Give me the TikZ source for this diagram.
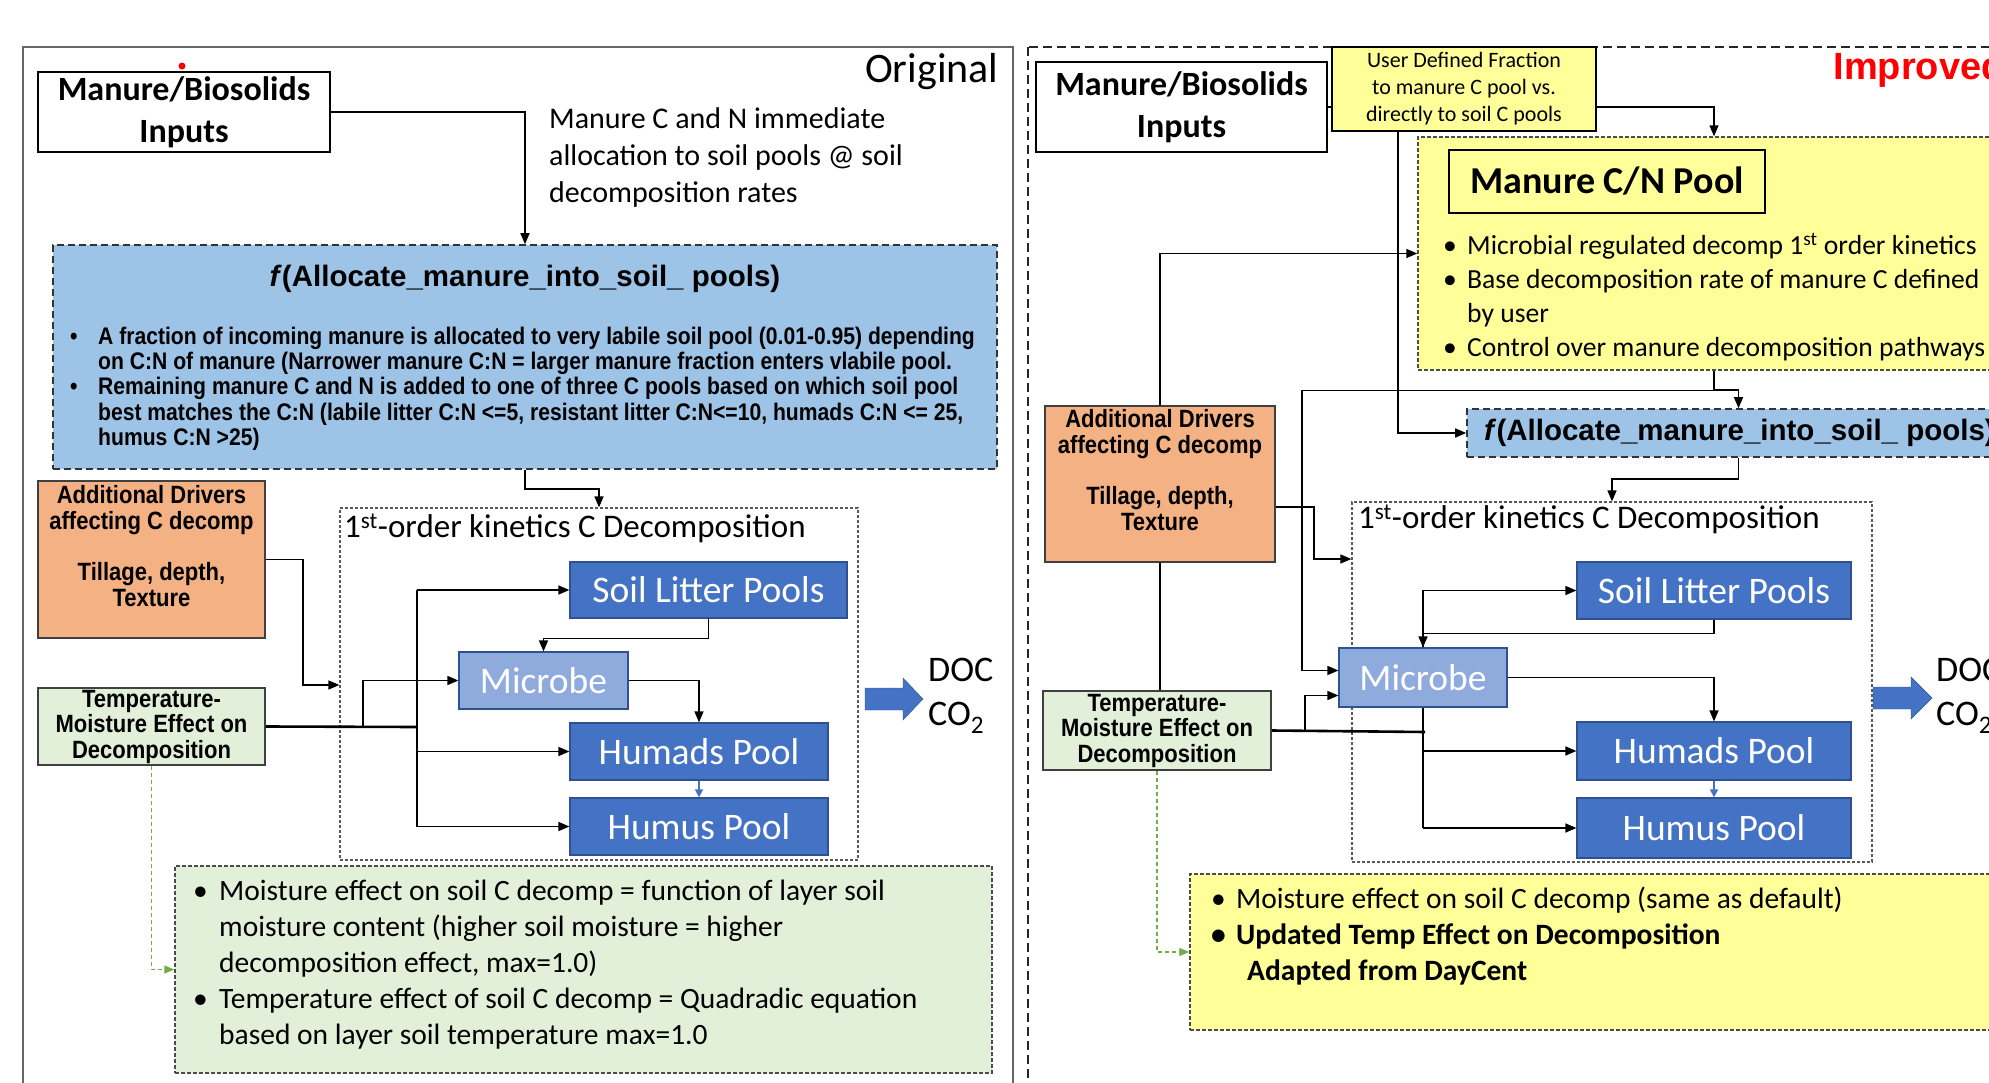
\documentclass[tikz,border=0pt]{standalone}
\usepackage{fontspec}
\setmainfont{Carlito}
\newfontfamily\arialsf{Liberation Sans}
\newfontfamily\narrowsf[FakeStretch=0.88]{Liberation Sans}
\usepackage{xcolor}
\usetikzlibrary{arrows.meta,calc}
\definecolor{bluebox}{HTML}{9DC3E6}
\definecolor{pooldark}{HTML}{4472C4}
\definecolor{poolline}{HTML}{2F528F}
\definecolor{microbe}{HTML}{8FAADC}
\definecolor{orangebox}{HTML}{F4B183}
\definecolor{greenbox}{HTML}{E2F0D9}
\definecolor{yellowbox}{HTML}{FFFF99}
\definecolor{gline}{HTML}{70AD47}
\newcommand\bl[1]{\makebox[#1][l]{\textbullet}}
\newcommand\fs[2]{\fontsize{#1}{#2}\selectfont}

\begin{document}
\begin{tikzpicture}[x=1pt,y=-1pt,
  conn/.style={line width=1.5},
  arr/.style={conn,-{Triangle[length=11pt,width=9pt]}},
  thk/.style={line width=2.6},
  box/.style={draw,line width=1.5,inner sep=0,align=center},
  pool/.style={fill=pooldark,draw=poolline,line width=1.2,text=white,inner sep=0,font=\fs{37.5}{45}},
  micro/.style={pool,fill=microbe},
  decframe/.style={draw=black!65,dash pattern=on 3pt off 2pt,line width=1.2,inner sep=0},
  bluedash/.style={fill=bluebox,draw=black!80,dash pattern=on 7pt off 4pt,line width=1.6,inner sep=0},
  notedash/.style={draw=black!70,dash pattern=on 4pt off 2pt,line width=1.4,inner sep=0},
  drivers/.style={box,font=\narrowsf\bfseries\fs{25}{25.5}},
  gdash/.style={draw=gline,dash pattern=on 4pt off 3pt,line width=1.2,-{Triangle[length=10pt,width=8pt]}},
  barr/.style={draw=pooldark,line width=1.5,-{Triangle[length=8pt,width=8pt]}}]
\useasboundingbox (0,0) rectangle (1989,1083);

% ---------------- Original ----------------
\draw[black!60,line width=1.5] (23,47) rectangle (1013,1100);
\node[anchor=east,font=\fs{42}{48}] (orig) at (1002,72) {Original};
\fill[red] (182,66) circle (3.5);
\node[box,minimum width=292,minimum height=80,font=\bfseries\fs{34}{42}] (manL) at (184,112) {Manure/Biosolids\\Inputs};
\node[anchor=north west,inner sep=0,align=left,font=\fs{30}{37}] (txtL) at (549,107) {Manure C and N immediate\\allocation to soil pools @ soil\\decomposition rates};
\node[bluedash,minimum width=944,minimum height=224] (blueL) at (525,357) {};
\node[font=\arialsf\bfseries\fs{29.5}{35}] (fttlL) at (525,279) {\textit{f}(Allocate\_manure\_into\_soil\_ pools)};
\node[anchor=north west,inner sep=0,align=left,font=\narrowsf\bfseries\fs{24}{25.2}] (fbulL) at (70,327) {\bl{28pt}A fraction of incoming manure is allocated to very labile soil pool (0.01-0.95) depending\\
\hspace*{28pt}on C:N of manure (Narrower manure C:N = larger manure fraction enters vlabile pool.\\
\bl{28pt}Remaining manure C and N is added to one of three C pools based on which soil pool\\
\hspace*{28pt}best matches the C:N (labile litter C:N <=5, resistant litter C:N<=10, humads C:N <= 25,\\
\hspace*{28pt}humus C:N >25)};

\node[box,fill=orangebox,draw=black!75,minimum width=227,minimum height=157] (orgL) at (151.5,559.5) {};
\node[font=\narrowsf\bfseries\fs{25}{25.5},align=center] (orgtL) at (151.5,546) {Additional Drivers\\affecting C decomp\\[26pt]Tillage, depth,\\Texture};
\node[drivers,fill=greenbox,draw=black!75,minimum width=227,minimum height=77] (grnL) at (151.5,726.5) {Temperature-\\Moisture Effect on\\Decomposition};

\node[decframe,minimum width=518,minimum height=352] (frameL) at (599,684) {};
\node[anchor=west,inner sep=0,font=\fs{33}{40}] (ttlL) at (344,528) {1\textsuperscript{st}-order kinetics C Decomposition};
\node[pool,minimum width=277,minimum height=56] (litL) at (708.5,590) {Soil Litter Pools};
\node[micro,minimum width=169,minimum height=57] (micL) at (543.5,680.5) {Microbe};
\node[pool,minimum width=258,minimum height=57] (hadL) at (699,751.5) {Humads Pool};
\node[pool,minimum width=258,minimum height=57] (husL) at (699,826.5) {Humus Pool};
\fill[pooldark,draw=poolline] (865,688) -- (903,688) -- (903,678) -- (923,699) -- (903,720) -- (903,710) -- (865,710) -- cycle;
\node[anchor=west,inner sep=0,font=\fs{36}{40}] (docL) at (928,670) {DOC};
\node[anchor=west,inner sep=0,font=\fs{36}{40}] (co2L) at (928,718) {CO\textsubscript{2}};

\node[notedash,fill=greenbox,minimum width=817,minimum height=207] (notesL) at (583.5,969.5) {};
\node[anchor=north west,inner sep=0,align=left,font=\fs{29.5}{36}] (nbulL) at (193,880) {\bl{26pt}Moisture effect on soil C decomp = function of layer soil\\
\hspace*{26pt}moisture content (higher soil moisture = higher\\
\hspace*{26pt}decomposition effect, max=1.0)\\
\bl{26pt}Temperature effect of soil C decomp = Quadradic equation\\
\hspace*{26pt}based on layer soil temperature max=1.0};

\coordinate (oL) at (303,685);
\coordinate (busL) at (417,727);
\coordinate (brL) at (363,727);
\draw[arr] (manL.east) -| (blueL.north);
\draw[arr] (blueL.south) -- ++(0,19) -| (frameL.north);
\draw[arr] (orgL.east) -| (oL) -- (oL -| frameL.west);
\draw[thk] (grnL.east) -- (busL);
\draw[arr] (brL) |- (micL.west);
\draw[conn] (busL |- litL) -- (busL |- husL);
\foreach \p in {litL,hadL,husL} \draw[arr] (busL |- \p) -- (\p.west);
\draw[arr] (litL.south) -- ++(0,20) -| (micL.north);
\draw[arr] (micL.east) -| (hadL.north);
\draw[barr] (hadL.south) -- (husL.north);
\draw[gdash] (grnL.south) |- (notesL.west);

% ---------------- Improved ----------------
\draw[black!85,dash pattern=on 9pt off 5pt,line width=2.2] (1028,47) rectangle (2010,1100);
\node[anchor=west,text=red,font=\arialsf\bfseries\fs{38}{42}] (impR) at (1830,70) {Improved};
\node[box,minimum width=291,minimum height=90,font=\bfseries\fs{34}{42}] (manR) at (1181.5,107) {Manure/Biosolids\\Inputs};
\node[box,fill=yellowbox,minimum width=264,minimum height=84,font=\fs{22}{27}] (usrR) at (1464,89) {User Defined Fraction\\to manure C pool vs.\\directly to soil C pools};
\node[notedash,fill=yellowbox,minimum width=592,minimum height=233] (yelR) at (1714,253.5) {};
\node[box,fill=yellowbox,line width=1.3,minimum width=316,minimum height=63,font=\bfseries\fs{38}{44}] (cnR) at (1607,181.5) {Manure C/N Pool};
\node[anchor=north west,inner sep=0,align=left,font=\fs{27.6}{34}] (ybulR) at (1443,233) {\bl{24pt}Microbial regulated decomp 1\textsuperscript{st} order kinetics\\
\bl{24pt}Base decomposition rate of manure C defined\\
\hspace*{24pt}by user\\
\bl{24pt}Control over manure decomposition pathways};
\node[bluedash,minimum width=543,minimum height=48] (fR) at (1738.5,433) {};
\node[anchor=west,inner sep=0,font=\arialsf\bfseries\fs{29.5}{35}] (fttlR) at (1484,433) {\textit{f}(Allocate\_manure\_into\_soil\_ pools)};

\node[box,fill=orangebox,draw=black!75,minimum width=230,minimum height=156] (orgR) at (1160,484) {};
\node[font=\narrowsf\bfseries\fs{25}{25.5},align=center] (orgtR) at (1160,470) {Additional Drivers\\affecting C decomp\\[26pt]Tillage, depth,\\Texture};
\node[drivers,fill=greenbox,draw=black!75,minimum width=228,minimum height=79] (grnR) at (1157,730.5) {Temperature-\\Moisture Effect on\\Decomposition};

\node[decframe,minimum width=520,minimum height=360] (frameR) at (1612,682) {};
\node[anchor=west,inner sep=0,font=\fs{33}{40}] (ttlR) at (1358,519) {1\textsuperscript{st}-order kinetics C Decomposition};
\node[pool,minimum width=274,minimum height=57] (litR) at (1714,590.5) {Soil Litter Pools};
\node[micro,minimum width=168,minimum height=59] (micR) at (1423,677.5) {Microbe};
\node[pool,minimum width=274,minimum height=58] (hadR) at (1714,751) {Humads Pool};
\node[pool,minimum width=274,minimum height=60] (husR) at (1714,828) {Humus Pool};
\fill[pooldark,draw=poolline] (1873,687) -- (1911,687) -- (1911,677) -- (1932,698) -- (1911,719) -- (1911,709) -- (1873,709) -- cycle;
\node[anchor=west,inner sep=0,font=\fs{36}{40}] (docR) at (1936,670) {DOC};
\node[anchor=west,inner sep=0,font=\fs{36}{40}] (co2R) at (1936,718) {CO\textsubscript{2}};

\node[notedash,fill=yellowbox,minimum width=820,minimum height=156] (notesR) at (1600,952) {};
\node[anchor=north west,inner sep=0,align=left,font=\fs{29.5}{36}] (nbulR) at (1211,887) {\bl{25pt}Moisture effect on soil C decomp (same as default)\\
\bfseries\bl{25pt}Updated Temp Effect on Decomposition\\
\bfseries\hspace*{36pt}Adapted from DayCent};

\coordinate (jR) at (1302,390);
\coordinate (oR) at (1314,559);
\coordinate (busR) at (1425,732);
\coordinate (brR) at (1305,732);
\draw[conn] (manR.east) -- (manR.east -| usrR.west);
\draw[arr] (usrR.east |- manR.east) -| (yelR.north);
\draw[arr] ([xshift=-66pt]usrR.south) |- (fR.west);
\draw[conn] (yelR.south) -- ++(0,20) -| (jR);
\draw[arr] (yelR.south |- jR) -| (fR.north);
\draw[arr] (jR) |- ([yshift=7pt]micR.west);
\draw[arr] (fR.south) -- ++(0,21) -| (frameR.north);
\draw[arr] (orgR.north) |- (yelR.west);
\draw[conn] (orgR.south) -- (orgR.south |- grnR.north);
\draw[arr] ([yshift=-23pt]orgR.east) -| (oR) -- (oR -| frameR.west);
\draw[thk] (grnR.east) -- (busR);
\draw[arr] (brR) |- ([yshift=-18pt]micR.west);
\draw[conn] (micR.south) -- (micR.south |- husR);
\foreach \p in {hadR,husR} \draw[arr] (micR.south |- \p) -- (\p.west);
\draw[arr] (micR.north) |- (litR.west);
\draw[arr] (litR.south) -- ++(0,14) -| (micR.north);
\draw[arr] (micR.east) -| (hadR.north);
\draw[barr] (hadR.south) -- (husR.north);
\draw[gdash] (grnR.south) |- (notesR.west);
\end{tikzpicture}
\end{document}
